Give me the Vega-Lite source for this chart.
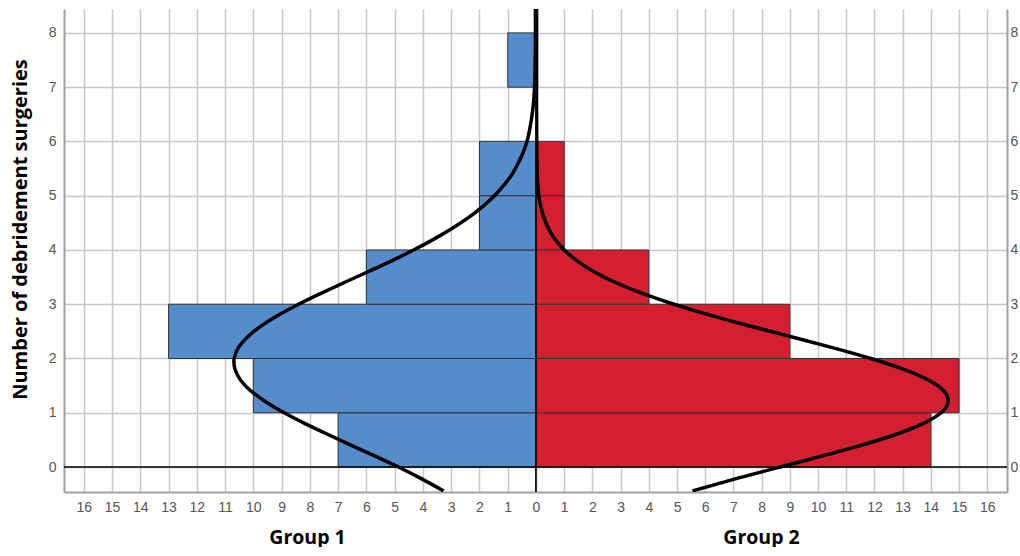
{
  "$schema": "https://vega.github.io/schema/vega-lite/v6.json",
  "padding": {"left": 10, "right": 0, "top": 8, "bottom": 0},
  "spacing": 0,
  "bounds": "flush",
  "background": "white",
  "config": {
    "view": {"stroke": null},
    "axis": {
      "labelFont": "Liberation Sans",
      "labelFontSize": 14,
      "labelColor": "#555555",
      "labelOverlap": false,
      "labelFlush": false,
      "format": "d",
      "titleFont": "Open Sans",
      "titleFontWeight": "bold",
      "titleFontSize": 19.5,
      "titleColor": "#000000",
      "domainColor": "#a0a0a0",
      "domainWidth": 2,
      "gridColor": "#c8c8c8",
      "gridWidth": 1.5,
      "gridOpacity": 1,
      "ticks": false
    }
  },
  "datasets": {
    "bars": [
      {"group": "Group 1", "lo": 0, "hi": 1, "count": 7},
      {"group": "Group 1", "lo": 1, "hi": 2, "count": 10},
      {"group": "Group 1", "lo": 2, "hi": 3, "count": 13},
      {"group": "Group 1", "lo": 3, "hi": 4, "count": 6},
      {"group": "Group 1", "lo": 4, "hi": 5, "count": 2},
      {"group": "Group 1", "lo": 5, "hi": 6, "count": 2},
      {"group": "Group 1", "lo": 7, "hi": 8, "count": 1},
      {"group": "Group 2", "lo": 0, "hi": 1, "count": 14},
      {"group": "Group 2", "lo": 1, "hi": 2, "count": 15},
      {"group": "Group 2", "lo": 2, "hi": 3, "count": 9},
      {"group": "Group 2", "lo": 3, "hi": 4, "count": 4},
      {"group": "Group 2", "lo": 4, "hi": 5, "count": 1},
      {"group": "Group 2", "lo": 5, "hi": 6, "count": 1}
    ],
    "curves": [
      {"group": "Group 1", "y": -0.44, "x": 3.27},
      {"group": "Group 1", "y": -0.2, "x": 4.11},
      {"group": "Group 1", "y": 0, "x": 4.87},
      {"group": "Group 1", "y": 0.2, "x": 5.69},
      {"group": "Group 1", "y": 0.4, "x": 6.53},
      {"group": "Group 1", "y": 0.6, "x": 7.36},
      {"group": "Group 1", "y": 0.8, "x": 8.17},
      {"group": "Group 1", "y": 1.0, "x": 8.91},
      {"group": "Group 1", "y": 1.2, "x": 9.55},
      {"group": "Group 1", "y": 1.4, "x": 10.08},
      {"group": "Group 1", "y": 1.6, "x": 10.45},
      {"group": "Group 1", "y": 1.8, "x": 10.65},
      {"group": "Group 1", "y": 2.0, "x": 10.68},
      {"group": "Group 1", "y": 2.2, "x": 10.53},
      {"group": "Group 1", "y": 2.4, "x": 10.2},
      {"group": "Group 1", "y": 2.6, "x": 9.72},
      {"group": "Group 1", "y": 2.8, "x": 9.11},
      {"group": "Group 1", "y": 3.0, "x": 8.4},
      {"group": "Group 1", "y": 3.2, "x": 7.61},
      {"group": "Group 1", "y": 3.4, "x": 6.78},
      {"group": "Group 1", "y": 3.6, "x": 5.94},
      {"group": "Group 1", "y": 3.8, "x": 5.11},
      {"group": "Group 1", "y": 4.0, "x": 4.33},
      {"group": "Group 1", "y": 4.2, "x": 3.61},
      {"group": "Group 1", "y": 4.4, "x": 2.96},
      {"group": "Group 1", "y": 4.6, "x": 2.38},
      {"group": "Group 1", "y": 4.8, "x": 1.89},
      {"group": "Group 1", "y": 5.0, "x": 1.47},
      {"group": "Group 1", "y": 5.2, "x": 1.13},
      {"group": "Group 1", "y": 5.4, "x": 0.84},
      {"group": "Group 1", "y": 5.6, "x": 0.63},
      {"group": "Group 1", "y": 5.8, "x": 0.45},
      {"group": "Group 1", "y": 6.0, "x": 0.32},
      {"group": "Group 1", "y": 6.2, "x": 0.23},
      {"group": "Group 1", "y": 6.6, "x": 0.11},
      {"group": "Group 1", "y": 7.0, "x": 0.05},
      {"group": "Group 1", "y": 7.4, "x": 0.03},
      {"group": "Group 1", "y": 7.8, "x": 0.02},
      {"group": "Group 1", "y": 8.2, "x": 0.02},
      {"group": "Group 1", "y": 8.6, "x": 0.02},
      {"group": "Group 2", "y": -0.44, "x": 5.55},
      {"group": "Group 2", "y": -0.2, "x": 7.19},
      {"group": "Group 2", "y": 0, "x": 8.65},
      {"group": "Group 2", "y": 0.2, "x": 10.12},
      {"group": "Group 2", "y": 0.4, "x": 11.52},
      {"group": "Group 2", "y": 0.6, "x": 12.75},
      {"group": "Group 2", "y": 0.8, "x": 13.72},
      {"group": "Group 2", "y": 1.0, "x": 14.36},
      {"group": "Group 2", "y": 1.2, "x": 14.61},
      {"group": "Group 2", "y": 1.4, "x": 14.47},
      {"group": "Group 2", "y": 1.6, "x": 13.93},
      {"group": "Group 2", "y": 1.8, "x": 13.04},
      {"group": "Group 2", "y": 2.0, "x": 11.87},
      {"group": "Group 2", "y": 2.2, "x": 10.51},
      {"group": "Group 2", "y": 2.4, "x": 9.05},
      {"group": "Group 2", "y": 2.6, "x": 7.58},
      {"group": "Group 2", "y": 2.8, "x": 6.17},
      {"group": "Group 2", "y": 3.0, "x": 4.89},
      {"group": "Group 2", "y": 3.2, "x": 3.77},
      {"group": "Group 2", "y": 3.4, "x": 2.82},
      {"group": "Group 2", "y": 3.6, "x": 2.06},
      {"group": "Group 2", "y": 3.8, "x": 1.46},
      {"group": "Group 2", "y": 4.0, "x": 1.0},
      {"group": "Group 2", "y": 4.2, "x": 0.67},
      {"group": "Group 2", "y": 4.4, "x": 0.44},
      {"group": "Group 2", "y": 4.6, "x": 0.28},
      {"group": "Group 2", "y": 4.8, "x": 0.17},
      {"group": "Group 2", "y": 5.0, "x": 0.1},
      {"group": "Group 2", "y": 5.2, "x": 0.065},
      {"group": "Group 2", "y": 5.4, "x": 0.045},
      {"group": "Group 2", "y": 5.8, "x": 0.03},
      {"group": "Group 2", "y": 6.2, "x": 0.025},
      {"group": "Group 2", "y": 6.6, "x": 0.02},
      {"group": "Group 2", "y": 7.0, "x": 0.02},
      {"group": "Group 2", "y": 7.6, "x": 0.02},
      {"group": "Group 2", "y": 8.2, "x": 0.02},
      {"group": "Group 2", "y": 8.6, "x": 0.02}
    ],
    "zero": [{"v": 0}]
  },
  "resolve": {"scale": {"x": "independent", "y": "independent"}},
  "hconcat": [
    {
      "width": 472,
      "height": 483,
      "layer": [
        {
          "data": {"name": "bars"},
          "transform": [{"filter": "datum.group === 'Group 1'"}],
          "mark": {"type": "bar", "fill": "#548ccc", "stroke": "#333333", "strokeWidth": 1},
          "encoding": {
            "x": {"field": "count", "type": "quantitative",
              "scale": {"domain": [0, 16.7], "reverse": true, "nice": false, "zero": false},
              "axis": {"title": "Group 1", "values": [0,1,2,3,4,5,6,7,8,9,10,11,12,13,14,15,16], "tickCount": 17, "grid": true, "labelPadding": 8, "titlePadding": 14, "titleX": 243}},
            "x2": {"datum": 0},
            "y": {"field": "lo", "type": "quantitative",
              "scale": {"domain": [-0.46, 8.44], "nice": false, "zero": false},
              "axis": {"title": "Number of debridement surgeries", "orient": "left", "values": [0,1,2,3,4,5,6,7,8], "grid": true, "labelPadding": 8, "titlePadding": 18, "titleY": 220, "titleFontSize": 20}},
            "y2": {"field": "hi"}
          }
        },
        {
          "data": {"name": "zero"},
          "mark": {"type": "rule", "color": "#000000", "strokeWidth": 1.5},
          "encoding": {"y": {"field": "v", "type": "quantitative"}}
        },
        {
          "data": {"name": "zero"},
          "mark": {"type": "rule", "color": "#000000", "strokeWidth": 1.5},
          "encoding": {"x": {"field": "v", "type": "quantitative"}}
        },
        {
          "data": {"name": "curves"},
          "transform": [{"filter": "datum.group === 'Group 1'"}],
          "mark": {"type": "line", "color": "#000000", "strokeWidth": 3.5, "clip": true, "interpolate": "natural"},
          "encoding": {
            "x": {"field": "x", "type": "quantitative"},
            "y": {"field": "y", "type": "quantitative"},
            "order": {"field": "y", "type": "quantitative"}
          }
        }
      ]
    },
    {
      "width": 471,
      "height": 483,
      "layer": [
        {
          "data": {"name": "bars"},
          "transform": [{"filter": "datum.group === 'Group 2'"}],
          "mark": {"type": "bar", "fill": "#d41f30", "stroke": "#333333", "strokeWidth": 1},
          "encoding": {
            "x": {"field": "count", "type": "quantitative",
              "scale": {"domain": [0, 16.7], "nice": false, "zero": false},
              "axis": {"title": "Group 2", "values": [0,1,2,3,4,5,6,7,8,9,10,11,12,13,14,15,16], "tickCount": 17, "grid": true, "labelPadding": 8, "titlePadding": 14, "titleX": 225, "labelExpr": "datum.value == 0 ? '' : datum.label"}},
            "x2": {"datum": 0},
            "y": {"field": "lo", "type": "quantitative",
              "scale": {"domain": [-0.46, 8.44], "nice": false, "zero": false},
              "axis": {"title": null, "orient": "right", "values": [0,1,2,3,4,5,6,7,8], "grid": true, "labelPadding": 3}},
            "y2": {"field": "hi"}
          }
        },
        {
          "data": {"name": "zero"},
          "mark": {"type": "rule", "color": "#000000", "strokeWidth": 1.5},
          "encoding": {"y": {"field": "v", "type": "quantitative"}}
        },
        {
          "data": {"name": "zero"},
          "mark": {"type": "rule", "color": "#000000", "strokeWidth": 1.5},
          "encoding": {"x": {"field": "v", "type": "quantitative"}}
        },
        {
          "data": {"name": "curves"},
          "transform": [{"filter": "datum.group === 'Group 2'"}],
          "mark": {"type": "line", "color": "#000000", "strokeWidth": 3.5, "clip": true, "interpolate": "natural"},
          "encoding": {
            "x": {"field": "x", "type": "quantitative"},
            "y": {"field": "y", "type": "quantitative"},
            "order": {"field": "y", "type": "quantitative"}
          }
        }
      ]
    }
  ]
}
